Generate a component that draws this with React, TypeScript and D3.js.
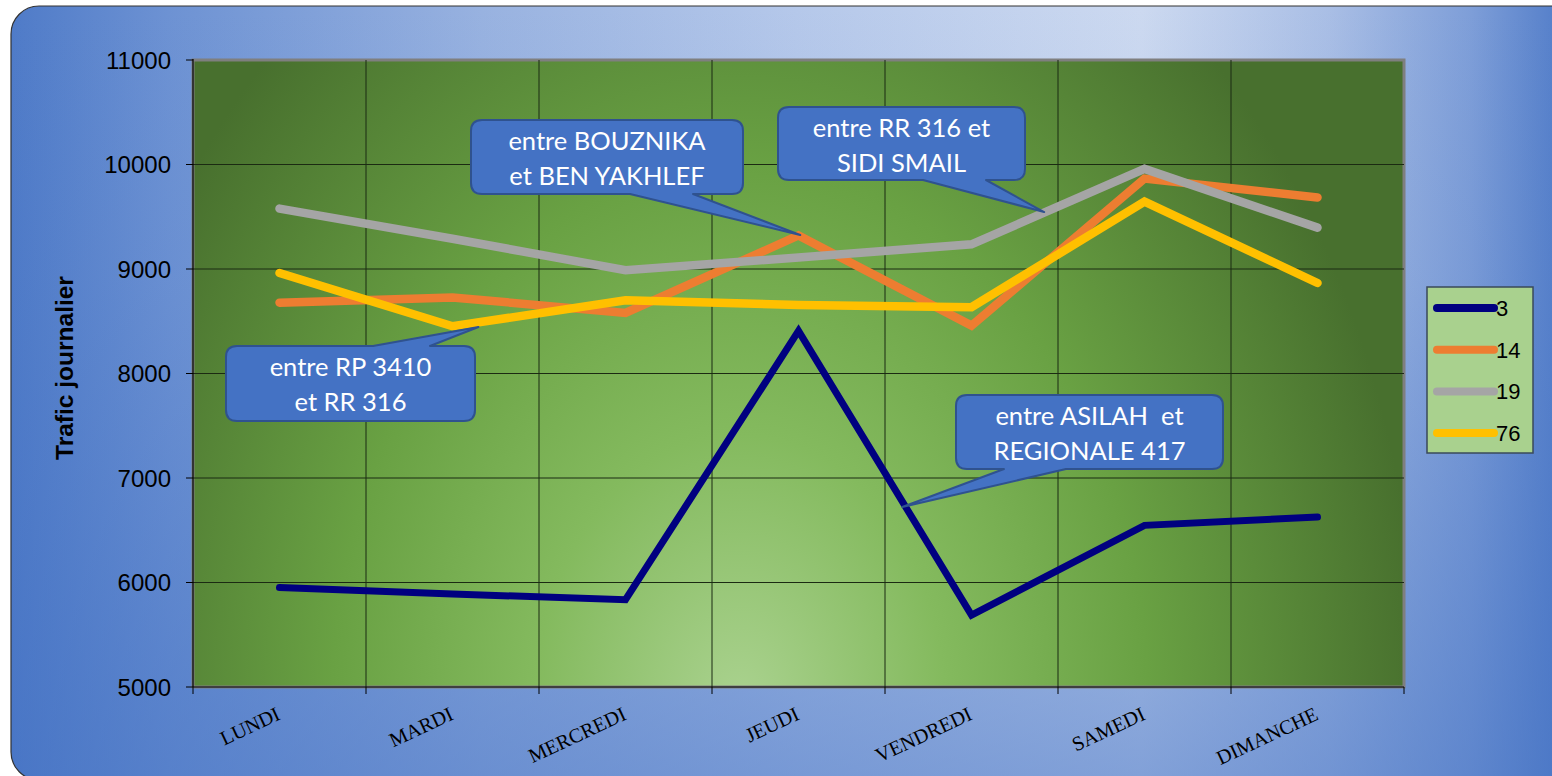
import React from "react";
import * as d3 from "d3";

const days = ["LUNDI", "MARDI", "MERCREDI", "JEUDI", "VENDREDI", "SAMEDI", "DIMANCHE"];
const seriesNames = ["3", "14", "19", "76"];
const values3 = [5952, 5890, 5835, 8407, 5688, 6547, 6626];
const values14 = [8678, 8728, 8579, 9321, 8458, 9865, 9685];
const values19 = [9578, 9290, 8988, 9110, 9236, 9958, 9396];
const values76 = [8962, 8452, 8700, 8656, 8634, 9645, 8866];
const seriesColors = ["#000080", "#ED7D31", "#A5A5A5", "#FFC000"];
const yTicks = [5000, 6000, 7000, 8000, 9000, 10000, 11000];
const yTitle = "Trafic journalier";

// callouts: lines, anchor day, offset within band (fraction of band), value of tip
const calloutTexts = [
  ["entre RP 3410", "et RR 316"],
  ["entre BOUZNIKA", "et BEN YAKHLEF"],
  ["entre RR 316 et", "SIDI SMAIL"],
  ["entre ASILAH  et", "REGIONALE 417"],
];
const calloutDays = ["MARDI", "JEUDI", "VENDREDI", "JEUDI"];
const calloutOffsets = [0.15, 0.01, 0.42, 0.6];
const calloutValues = [8445, 9325, 9545, 6722];

export default function App() {
  const W = 1552, H = 776;
  const left = 193, right = 1404, top = 60, bottom = 687;
  const x = d3.scaleBand<string>().domain(days).range([left, right]);
  const y = d3.scaleLinear().domain([5000, 11000]).range([bottom, top]);
  const bw = x.bandwidth();
  const cx = (d: string) => (x(d) as number) + bw / 2;

  const allSeries = [values3, values14, values19, values76];
  const line = d3
    .line<number>()
    .x((_, i) => cx(days[i]))
    .y((v) => y(v));

  // callout boxes (layout)
  const boxes = [
    { x0: 226, y0: 346, x1: 475, y1: 421, side: "top", b1: 373, b2: 430 },
    { x0: 471, y0: 120, x1: 743, y1: 194, side: "bottom", b1: 630, b2: 693 },
    { x0: 778, y0: 107, x1: 1025, y1: 180, side: "bottom", b1: 923, b2: 986 },
    { x0: 956, y0: 395, x1: 1223, y1: 469, side: "bottom", b1: 1004, b2: 1066 },
  ];

  const calloutPath = (b: any, tx: number, ty: number) => {
    const r = 11;
    const { x0, y0, x1, y1 } = b;
    if (b.side === "top") {
      return `M${x0 + r},${y0} H${b.b1} L${tx},${ty} L${b.b2},${y0} H${x1 - r} Q${x1},${y0} ${x1},${y0 + r} V${y1 - r} Q${x1},${y1} ${x1 - r},${y1} H${x0 + r} Q${x0},${y1} ${x0},${y1 - r} V${y0 + r} Q${x0},${y0} ${x0 + r},${y0} Z`;
    }
    return `M${x0 + r},${y0} H${x1 - r} Q${x1},${y0} ${x1},${y0 + r} V${y1 - r} Q${x1},${y1} ${x1 - r},${y1} H${b.b2} L${tx},${ty} L${b.b1},${y1} H${x0 + r} Q${x0},${y1} ${x0},${y1 - r} V${y0 + r} Q${x0},${y0} ${x0 + r},${y0} Z`;
  };

  const bandEdges = days.map((d) => x(d) as number).concat([right]);

  return (
    <svg
      width={W}
      height={H}
      style={{ position: "fixed", left: 0, top: 0, display: "block" }}
    >
      <defs>
        <linearGradient id="bgH" x1="0" y1="0" x2="1" y2="0">
          <stop offset="0" stopColor="#4F7BC8" />
          <stop offset="0.1" stopColor="#6D92D3" />
          <stop offset="0.3" stopColor="#98B2E0" />
          <stop offset="0.5" stopColor="#B5C8EA" />
          <stop offset="0.72" stopColor="#CCD9F0" />
          <stop offset="0.84" stopColor="#A9BEE5" />
          <stop offset="0.93" stopColor="#7E9ED8" />
          <stop offset="1" stopColor="#4A77C6" />
        </linearGradient>
        <linearGradient id="bgV" x1="0" y1="0" x2="0" y2="1">
          <stop offset="0" stopColor="#4472C4" stopOpacity="0" />
          <stop offset="0.35" stopColor="#4472C4" stopOpacity="0.1" />
          <stop offset="1" stopColor="#4472C4" stopOpacity="0.55" />
        </linearGradient>
        <radialGradient id="plotbg" gradientUnits="userSpaceOnUse" cx={0} cy={0} r={1}
          gradientTransform="translate(740,705) scale(680,900)">
          <stop offset="0" stopColor="#AAD28F" />
          <stop offset="0.3" stopColor="#84BA5E" />
          <stop offset="0.6" stopColor="#69A143" />
          <stop offset="1" stopColor="#48702E" />
        </radialGradient>
      </defs>
      <rect x={0} y={0} width={W} height={H} fill="#ffffff" />
      <rect x={11} y={6} width={1570} height={774} rx={28} ry={28} fill="url(#bgH)" />
      <rect x={11} y={6} width={1570} height={774} rx={28} ry={28} fill="url(#bgV)" stroke="#333" strokeWidth={1.2} />

      {/* plot area */}
      <rect x={left} y={top} width={right - left} height={bottom - top} fill="url(#plotbg)" stroke="#7f7f7f" strokeWidth={3} />

      {/* gridlines */}
      {yTicks.slice(1, -1).map((t) => (
        <line key={"h" + t} x1={left} x2={right} y1={y(t)} y2={y(t)} stroke="#1b2a12" strokeWidth={1} />
      ))}
      {bandEdges.slice(1, -1).map((e, i) => (
        <line key={"v" + i} x1={e} x2={e} y1={top} y2={bottom} stroke="#1b2a12" strokeWidth={1} />
      ))}

      {/* axes */}
      <line x1={left} x2={left} y1={top - 1} y2={bottom} stroke="#000" strokeWidth={1.2} />
      <line x1={left} x2={right} y1={bottom} y2={bottom} stroke="#000" strokeWidth={1.2} />
      {yTicks.map((t) => (
        <g key={"yt" + t}>
          <line x1={left - 7} x2={left} y1={y(t)} y2={y(t)} stroke="#000" strokeWidth={1} />
          <text x={171} y={y(t) + 8.5} textAnchor="end" fontFamily="Liberation Sans, Arial" fontSize={24} fill="#000">
            {t}
          </text>
        </g>
      ))}
      {bandEdges.map((e, i) => (
        <line key={"xt" + i} x1={e} x2={e} y1={bottom} y2={bottom + 7} stroke="#000" strokeWidth={1} />
      ))}
      {days.map((d) => (
        <text
          key={d}
          transform={`translate(${cx(d) + 2},${719}) rotate(-25)`}
          textAnchor="end"
          fontFamily="Liberation Serif, Times New Roman, serif"
          fontSize={20.3}
          fill="#000"
        >
          {d}
        </text>
      ))}
      <text
        transform={`translate(73,368) rotate(-90)`}
        textAnchor="middle"
        fontFamily="Liberation Sans, Arial"
        fontWeight="bold"
        fontSize={24.5}
        fill="#000"
      >
        {yTitle}
      </text>

      {/* series */}
      {allSeries.map((s, i) => (
        <path
          key={"s" + i}
          d={line(s) as string}
          fill="none"
          stroke={seriesColors[i]}
          strokeWidth={i === 0 ? 7 : 8.5}
          strokeLinecap="round"
          strokeLinejoin="miter"
          strokeMiterlimit={4}
        />
      ))}

      {/* callouts */}
      {boxes.map((b, i) => {
        const tx = cx(calloutDays[i]) + calloutOffsets[i] * bw;
        const ty = y(calloutValues[i]);
        const mx = (b.x0 + b.x1) / 2;
        return (
          <g key={"c" + i}>
            <path d={calloutPath(b, tx, ty)} fill="#4472C4" stroke="#2F528F" strokeWidth={2} strokeLinejoin="round" />
            {calloutTexts[i].map((t, j) => (
              <text
                key={j}
                x={mx}
                y={b.y0 + 30 + j * 35}
                textAnchor="middle"
                fontFamily="Lato, Open Sans, sans-serif"
                fontSize={25.5}
                fill="#fff"
                style={{ whiteSpace: "pre" }}
              >
                {t}
              </text>
            ))}
          </g>
        );
      })}

      {/* legend */}
      <rect x={1427} y={287} width={106} height={166} fill="#A9D18E" stroke="#3A4A5A" strokeWidth={1.5} />
      {seriesNames.map((n, i) => {
        const ly = 308 + i * 41.7;
        return (
          <g key={"l" + n}>
            <line x1={1437} x2={1494} y1={ly} y2={ly} stroke={seriesColors[i]} strokeWidth={8} strokeLinecap="round" />
            <text x={1496} y={ly + 8} fontFamily="Liberation Sans, Arial" fontSize={22} fill="#000">
              {n}
            </text>
          </g>
        );
      })}
    </svg>
  );
}
